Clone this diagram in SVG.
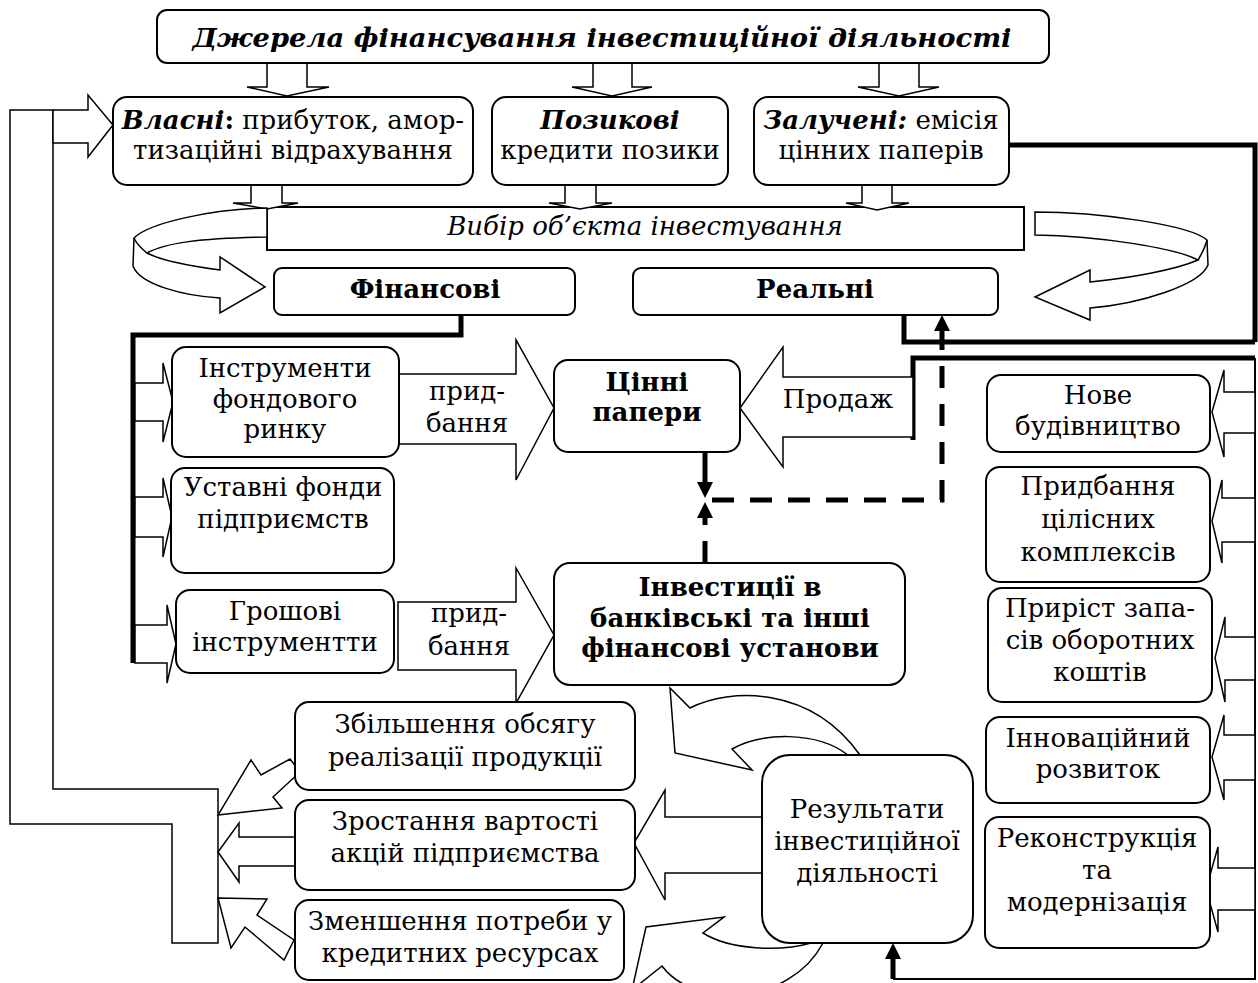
<svg xmlns="http://www.w3.org/2000/svg" width="1258" height="983" viewBox="0 0 1258 983">
<style>
.box{fill:#fff;stroke:#000;stroke-width:2}
.arr{fill:#fff;stroke:#000;stroke-width:1.5;stroke-linejoin:miter}
.thick{fill:none;stroke:#000;stroke-width:5}
.thin{fill:none;stroke:#000;stroke-width:2}
.dash{fill:none;stroke:#000;stroke-width:5;stroke-dasharray:22 16}
text{font-family:"DejaVu Serif","Liberation Serif",serif;font-size:26px;text-anchor:middle;fill:#000}
.b{font-weight:bold}
.i{font-style:italic}
</style>
<defs>
<marker id="ah" viewBox="0 0 16 16" markerWidth="16" markerHeight="16" refX="0" refY="8" orient="auto" markerUnits="userSpaceOnUse"><path d="M0,0 L16,8 L0,16 Z" fill="#000"/></marker>
</defs>
<rect width="1258" height="983" fill="#fff"/>

<g id="n-vybir">
<rect class="box" x="267" y="207" width="757" height="43"/>
<text class="i" x="645" y="235" font-size="25">Вибір об’єкта інвестування</text>
</g>

<g id="connectors">
<path class="arr" d="M10,110 H53 V789 H218 V943 H172 V824 H10 Z"/>
<path class="arr" d="M53,110 H88 V95 L113,125 L88,157 V143 H53 Z"/>
<polygon class="arr" points="267,63 307,63 307,87 329,87 287,96 247,87 267,87"/>
<polygon class="arr" points="593,63 632,63 632,87 652,87 612,96 572,87 593,87"/>
<polygon class="arr" points="879,63 919,63 919,87 939,87 899,96 858,87 879,87"/>
<polygon class="arr" points="251,185 282,185 282,203 298,203 267,209 233,203 251,203"/>
<polygon class="arr" points="565,185 596,185 596,203 612,203 580,209 549,203 565,203"/>
<polygon class="arr" points="862,185 892,185 892,203 909,203 877,210 846,203 862,203"/>
<path class="arr" d="M267,208 C215,209 150,222 134,238 L133,266 C140,285 185,296 220,298 L220,313 L265,287 L220,257 L220,270 C190,266 160,260 147,253 C165,243 200,238 267,237 Z"/>
<path class="arr" d="M134,238 C137,245 142,249 147,253"/>
<path class="arr" d="M1035,212 C1100,212 1190,225 1207,240 L1208,265 C1200,285 1140,304 1090,308 L1090,320 L1035,297 L1090,270 L1090,282 C1130,278 1175,270 1198,260 C1175,248 1100,236 1035,235 Z"/>
<path class="arr" d="M1207,240 C1205,248 1201,255 1198,260"/>
<path class="thick" d="M461,315 V335 H133 V663"/>
<path class="thick" d="M1009,145 H1255 V342"/>
<path class="thick" d="M904,315 V342 H1255"/>
<path class="thick" d="M913,440 V358 H1255"/>
<path class="thin" d="M1255,358 V979 H893"/>
<path class="thick" d="M893,979 V959" marker-end="url(#ah)"/>
<polygon class="arr" points="135,383 163,383 163,363 173,402 163,442 163,421 135,421"/>
<polygon class="arr" points="135,497 163,497 163,478 172,517 163,557 163,537 135,537"/>
<polygon class="arr" points="135,625 167,625 167,605 176,644 167,683 167,663 135,663"/>
<polygon class="arr" points="399,374 516,374 516,340 554,408 516,480 516,444 399,444"/>
<polygon class="arr" points="398,602 516,602 516,568 554,635 516,703 516,670 398,670"/>
<polygon class="arr" points="913,377 783,377 783,347 740,408 783,467 783,437 913,437"/>
<polygon class="arr" points="762,817 665,817 665,790 634,843 665,900 665,873 762,873"/>
<polygon class="arr" points="218,815 282,808 273,797 300,772 290,759 261,775 251,760"/>
<polygon class="arr" points="300,837 239,837 239,823 218,852 239,882 239,866 300,866"/>
<polygon class="arr" points="218,898 267,899 257,915 294,940 284,960 245,927 231,948"/>
<polygon class="arr" points="1255,392 1224,392 1224,370 1212,412 1224,457 1224,433 1255,433"/>
<polygon class="arr" points="1255,498 1222,498 1222,480 1212,521 1222,563 1222,542 1255,542"/>
<polygon class="arr" points="1255,637 1225,637 1225,617 1215,658 1225,702 1225,680 1255,680"/>
<polygon class="arr" points="1255,735 1224,735 1224,715 1212,757 1224,800 1224,780 1255,780"/>
<polygon class="arr" points="1255,868 1218,868 1218,847 1206,889 1218,932 1218,910 1255,910"/>
<path class="arr" d="M860,755 C810,685 730,688 690,708 L670,688 L675,753 L752,770 L732,749 C760,733 815,730 848,755 Z"/>
<path class="arr" d="M823,943 C790,1005 695,1010 662,966 L632,990 L646,927 L724,917 L703,933 C730,950 780,952 811,943 Z"/>
<path class="dash" d="M712,500 H942 V331" marker-end="url(#ah)"/>
<path class="thick" d="M705,452 V482" marker-end="url(#ah)"/>
<path class="dash" d="M705,563 V518" marker-end="url(#ah)"/>
<text x="467" y="400">прид-</text>
<text x="467" y="432">бання</text>
<text x="469" y="622">прид-</text>
<text x="469" y="655">бання</text>
<text x="838" y="408">Продаж</text>
</g>

<g id="n-title">
<rect class="box" x="157" y="10" width="892" height="53" rx="10"/>
<text class="b i" x="602" y="47" font-size="31" textLength="819" lengthAdjust="spacingAndGlyphs">Джерела фінансування інвестиційної діяльності</text>
</g>
<g id="n-vlasni">
<rect class="box" x="113" y="97" width="360" height="88" rx="14"/>
<text x="293" y="129"><tspan class="b i">Власні</tspan><tspan class="b">:</tspan> прибуток, амор-</text>
<text x="293" y="159">тизаційні відрахування</text>
</g>
<g id="n-pozykovi">
<rect class="box" x="492" y="97" width="236" height="88" rx="14"/>
<text class="b i" x="610" y="129">Позикові</text>
<text x="610" y="159">кредити позики</text>
</g>
<g id="n-zalucheni">
<rect class="box" x="754" y="97" width="255" height="88" rx="14"/>
<text x="881" y="129"><tspan class="b i">Залучені:</tspan> емісія</text>
<text x="881" y="159">цінних паперів</text>
</g>
<g id="n-finansovi">
<rect class="box" x="274" y="268" width="301" height="47" rx="8"/>
<text class="b" x="425" y="298">Фінансові</text>
</g>
<g id="n-realni">
<rect class="box" x="633" y="268" width="365" height="47" rx="8"/>
<text class="b" x="815" y="298">Реальні</text>
</g>
<g id="n-instrumenty">
<rect class="box" x="172" y="347" width="227" height="110" rx="14"/>
<text x="285" y="377">Інструменти</text>
<text x="285" y="408">фондового</text>
<text x="285" y="438">ринку</text>
</g>
<g id="n-ustavni">
<rect class="box" x="171" y="468" width="223" height="105" rx="14"/>
<text x="283" y="496">Уставні фонди</text>
<text x="283" y="528">підприємств</text>
</g>
<g id="n-groshovi">
<rect class="box" x="176" y="590" width="218" height="83" rx="14"/>
<text x="285" y="620">Грошові</text>
<text x="285" y="651">інструментти</text>
</g>
<g id="n-cinni">
<rect class="box" x="554" y="360" width="186" height="92" rx="14"/>
<text class="b" x="647" y="391">Цінні</text>
<text class="b" x="647" y="421">папери</text>
</g>
<g id="n-investycii">
<rect class="box" x="554" y="563" width="351" height="122" rx="16"/>
<text class="b" x="730" y="596">Інвестиції в</text>
<text class="b" x="730" y="627">банківські та інші</text>
<text class="b" x="730" y="657">фінансові установи</text>
</g>
<g id="n-nove">
<rect class="box" x="987" y="375" width="223" height="77" rx="14"/>
<text x="1098" y="404">Нове</text>
<text x="1098" y="435">будівництво</text>
</g>
<g id="n-prydbannia">
<rect class="box" x="986" y="467" width="224" height="115" rx="14"/>
<text x="1098" y="495">Придбання</text>
<text x="1098" y="528">цілісних</text>
<text x="1098" y="561">комплексів</text>
</g>
<g id="n-pryrist">
<rect class="box" x="988" y="588" width="224" height="114" rx="14"/>
<text x="1100" y="617">Приріст запа-</text>
<text x="1100" y="649">сів оборотних</text>
<text x="1100" y="681">коштів</text>
</g>
<g id="n-innov">
<rect class="box" x="986" y="717" width="224" height="86" rx="14"/>
<text x="1098" y="747">Інноваційний</text>
<text x="1098" y="778">розвиток</text>
</g>
<g id="n-rekonstr">
<rect class="box" x="985" y="817" width="225" height="131" rx="14"/>
<text x="1097" y="847">Реконструкція</text>
<text x="1097" y="879">та</text>
<text x="1097" y="911">модернізація</text>
</g>
<g id="n-rezultaty">
<rect class="box" x="762" y="755" width="211" height="188" rx="28"/>
<text x="867" y="818">Результати</text>
<text x="867" y="850">інвестиційної</text>
<text x="867" y="882">діяльності</text>
</g>
<g id="n-zbilshennia">
<rect class="box" x="295" y="702" width="340" height="88" rx="14"/>
<text x="465" y="733">Збільшення обсягу</text>
<text x="465" y="766">реалізації продукції</text>
</g>
<g id="n-zrostannia">
<rect class="box" x="295" y="800" width="340" height="90" rx="14"/>
<text x="465" y="830">Зростання вартості</text>
<text x="465" y="862">акцій підприємства</text>
</g>
<g id="n-zmenshennia">
<rect class="box" x="295" y="900" width="329" height="80" rx="14"/>
<text x="460" y="930">Зменшення потреби у</text>
<text x="460" y="962">кредитних ресурсах</text>
</g>
</svg>
